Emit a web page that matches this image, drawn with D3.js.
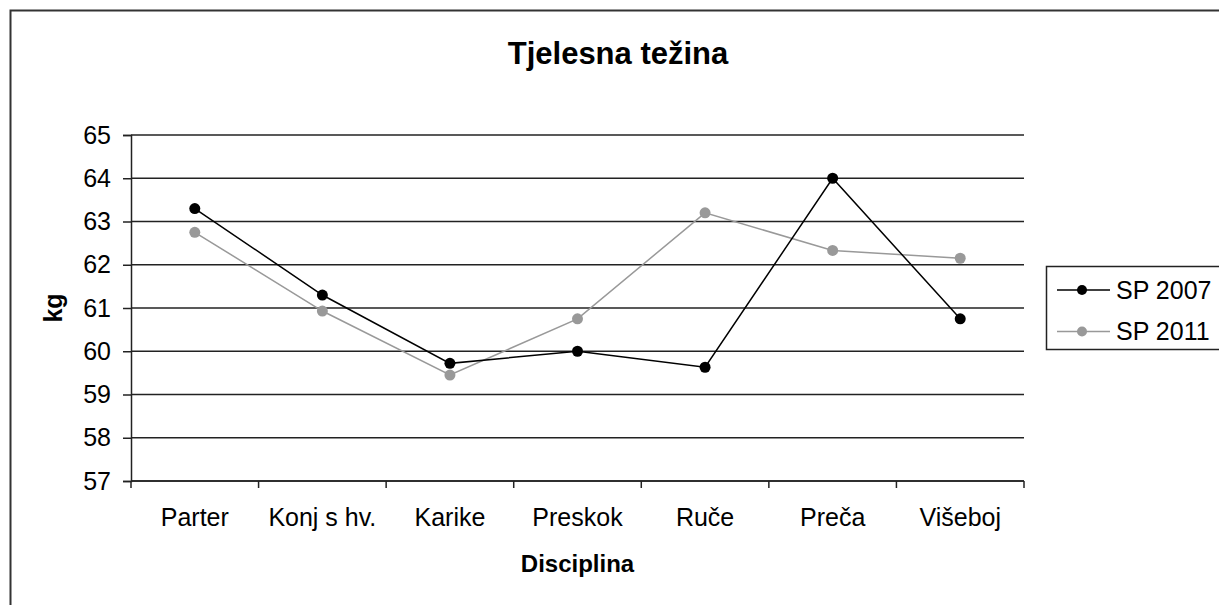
<!DOCTYPE html>
<html>
<head>
<meta charset="utf-8">
<script src="https://cdn.jsdelivr.net/npm/d3@7"></script>
<style>
  body { margin: 0; background: #fff; }
  svg text { font-family: "Liberation Sans", Arial, sans-serif; fill: #000; }
</style>
</head>
<body>
<div id="chart"></div>
<script>
"use strict";

// values
var categories = ["Parter", "Konj s hv.", "Karike", "Preskok", "Ruče", "Preča", "Višeboj"];
var sp2007 = [63.3, 61.3, 59.72, 60.0, 59.63, 64.0, 60.75];
var sp2011 = [62.75, 60.93, 59.45, 60.75, 63.2, 62.33, 62.15];
var yTicks = [57, 58, 59, 60, 61, 62, 63, 64, 65];
var seriesNames = ["SP 2007", "SP 2011"];
var seriesColors = ["#000000", "#999999"];

var width = 1219, height = 605;

var svg = d3.select("#chart").append("svg")
    .attr("width", width)
    .attr("height", height);

// chart border
svg.append("rect")
    .attr("x", 10.5).attr("y", 10.5)
    .attr("width", 1240).attr("height", 640)
    .attr("fill", "none")
    .attr("stroke", "#333")
    .attr("stroke-width", 2);

var plot = {left: 131, right: 1024, top: 135, bottom: 481};

var x = d3.scaleBand()
    .domain(categories)
    .range([plot.left, plot.right])
    .padding(0);

var y = d3.scaleLinear()
    .domain([57, 65])
    .range([plot.bottom, plot.top]);

// gridlines
svg.append("g")
    .selectAll("line")
    .data(yTicks)
    .enter().append("line")
    .attr("x1", plot.left).attr("x2", plot.right)
    .attr("y1", function(d) { return y(d); })
    .attr("y2", function(d) { return y(d); })
    .attr("stroke", "#222")
    .attr("stroke-width", 1.5);

// y axis
var yAxis = svg.append("g")
    .attr("transform", "translate(" + plot.left + ",0)")
    .call(d3.axisLeft(y).tickValues(yTicks).tickSize(8).tickPadding(12).tickFormat(d3.format("d")));
yAxis.select(".domain").attr("stroke", "#222").attr("stroke-width", 1.5);
yAxis.selectAll(".tick line").attr("stroke", "#222").attr("stroke-width", 1.5);
yAxis.selectAll("text")
    .style("font-size", "25px")
    .attr("fill", "#000");

// x axis - labels at centers, tick marks at category boundaries
var xAxis = svg.append("g")
    .attr("transform", "translate(0," + plot.bottom + ")")
    .call(d3.axisBottom(x).tickSize(0).tickPadding(27));
xAxis.select(".domain").remove();
xAxis.selectAll("text")
    .style("font-size", "25px")
    .attr("fill", "#000");

svg.append("line")
    .attr("x1", plot.left).attr("x2", plot.right)
    .attr("y1", plot.bottom).attr("y2", plot.bottom)
    .attr("stroke", "#222").attr("stroke-width", 1.5);

var bounds = categories.map(function(c) { return x(c); }).concat([x(categories[categories.length - 1]) + x.bandwidth()]);
svg.append("g")
    .selectAll("line")
    .data(bounds)
    .enter().append("line")
    .attr("x1", function(d) { return d; })
    .attr("x2", function(d) { return d; })
    .attr("y1", plot.bottom)
    .attr("y2", plot.bottom + 7)
    .attr("stroke", "#222")
    .attr("stroke-width", 1.5);

// lines
var line = d3.line()
    .x(function(d, i) { return x(categories[i]) + x.bandwidth() / 2; })
    .y(function(d) { return y(d); });

var allSeries = [sp2011, sp2007];
var allColors = [seriesColors[1], seriesColors[0]];

allSeries.forEach(function(values, k) {
    svg.append("path")
        .datum(values)
        .attr("d", line)
        .attr("fill", "none")
        .attr("stroke", allColors[k])
        .attr("stroke-width", 1.5);

    svg.append("g")
        .selectAll("circle")
        .data(values)
        .enter().append("circle")
        .attr("cx", function(d, i) { return x(categories[i]) + x.bandwidth() / 2; })
        .attr("cy", function(d) { return y(d); })
        .attr("r", 5.5)
        .attr("fill", allColors[k]);
});

// title
svg.append("text")
    .attr("x", 618)
    .attr("y", 64)
    .attr("text-anchor", "middle")
    .style("font-size", "31px")
    .style("font-weight", "bold")
    .text("Tjelesna težina");

// axis titles
svg.append("text")
    .attr("x", (plot.left + plot.right) / 2)
    .attr("y", 572)
    .attr("text-anchor", "middle")
    .style("font-size", "24px")
    .style("font-weight", "bold")
    .text("Disciplina");

svg.append("text")
    .attr("transform", "translate(62," + (plot.top + plot.bottom) / 2 + ") rotate(-90)")
    .attr("text-anchor", "middle")
    .style("font-size", "25px")
    .style("font-weight", "bold")
    .text("kg");

// legend
var legend = svg.append("g");
legend.append("rect")
    .attr("x", 1046.5).attr("y", 266.5)
    .attr("width", 200).attr("height", 83)
    .attr("fill", "#fff")
    .attr("stroke", "#222")
    .attr("stroke-width", 1.5);

var legendY = [290, 331.5];
seriesNames.forEach(function(name, i) {
    legend.append("line")
        .attr("x1", 1057).attr("x2", 1110)
        .attr("y1", legendY[i]).attr("y2", legendY[i])
        .attr("stroke", seriesColors[i])
        .attr("stroke-width", 1.5);
    legend.append("circle")
        .attr("cx", 1082).attr("cy", legendY[i])
        .attr("r", 5)
        .attr("fill", seriesColors[i]);
    legend.append("text")
        .attr("x", 1116)
        .attr("y", legendY[i])
        .attr("dy", "0.35em")
        .style("font-size", "25px")
        .text(name);
});
</script>
</body>
</html>
